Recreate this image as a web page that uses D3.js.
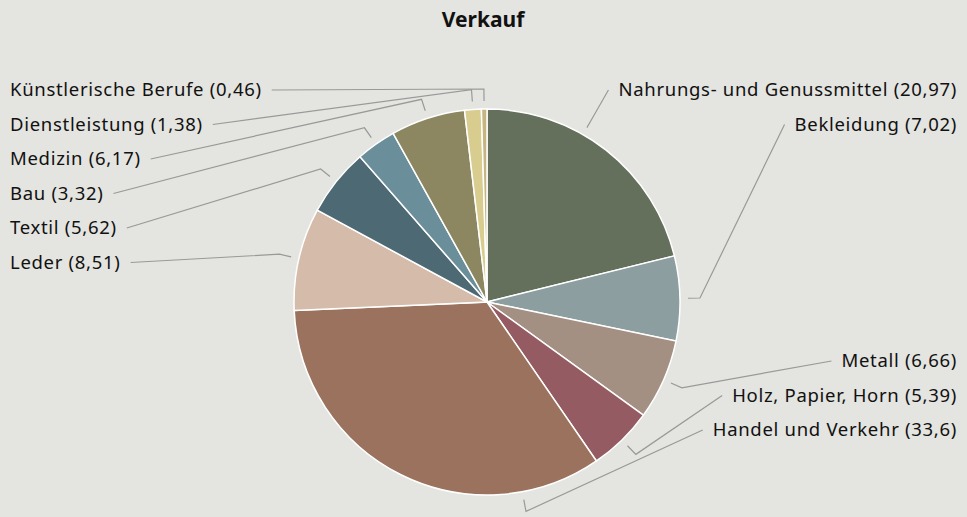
<!DOCTYPE html>
<html>
<head>
<meta charset="utf-8">
<script src="https://cdn.jsdelivr.net/npm/d3@7"></script>
<style>
  body { margin: 0; background: #e4e4e0; }
  svg { display: block; font-family: "Noto Sans", "Open Sans", sans-serif; }
</style>
</head>
<body>
<svg id="chart"></svg>
<script>
// data, clockwise from 12 o'clock
const categories = ["Nahrungs- und Genussmittel", "Bekleidung", "Metall", "Holz, Papier, Horn",
    "Handel und Verkehr", "Leder", "Textil", "Bau", "Medizin", "Dienstleistung", "Künstlerische Berufe"];
const values = [20.97, 7.02, 6.66, 5.39, 33.6, 8.51, 5.62, 3.32, 6.17, 1.38, 0.46];
const valueLabels = ["20,97", "7,02", "6,66", "5,39", "33,6", "8,51", "5,62", "3,32", "6,17", "1,38", "0,46"];
const colors = ["#64705b", "#8d9ea1", "#a39083", "#955b62", "#9a725d", "#d5bba9",
    "#4d6974", "#6a8f9b", "#8c8760", "#d8cd8e", "#c4b581"];
const title = "Verkauf";

const W = 967, H = 517;
const cx = 487, cy = 302, R = 193;
const FONT = 18.5, STEP = 34.5;

const svg = d3.select("#chart").attr("width", W).attr("height", H);
svg.append("rect").attr("width", W).attr("height", H).attr("fill", "#e4e4e0");

svg.append("text")
    .attr("x", 483).attr("y", 27)
    .attr("text-anchor", "middle")
    .attr("font-size", 21).attr("font-weight", "bold")
    .attr("fill", "#111")
    .text(title);

const data = categories.map((c, i) => ({name: c, value: values[i], label: valueLabels[i], color: colors[i]}));

const pie = d3.pie().value(d => d.value).sort(null);
const arcs = pie(data);
const arc = d3.arc().innerRadius(0).outerRadius(R);

const g = svg.append("g").attr("transform", `translate(${cx},${cy})`);
g.selectAll("path").data(arcs).join("path")
    .attr("d", arc)
    .attr("fill", d => d.data.color)
    .attr("stroke", "#fff")
    .attr("stroke-width", 1.5);

// label layout: slices starting in the right half get right labels,
// split in a top group (from the top down) and a bottom group (from the bottom up)
const mid = a => (a.startAngle + a.endAngle) / 2;
const left = arcs.filter(a => a.startAngle >= Math.PI).reverse();
const right = arcs.filter(a => a.startAngle < Math.PI);
const rightTop = right.filter(a => mid(a) < Math.PI / 2);
const rightBottom = right.filter(a => mid(a) >= Math.PI / 2);

left.forEach((a, i) => { a.side = "left"; a.ly = 90 + i * STEP; a.lx = 10; });
rightTop.forEach((a, i) => { a.side = "right"; a.ly = 90 + i * STEP; a.lx = 957; });
rightBottom.forEach((a, i) => { a.side = "right"; a.ly = 430 - (rightBottom.length - 1 - i) * STEP; a.lx = 957; });

const labels = svg.append("g");
const texts = labels.selectAll("text").data(arcs).join("text")
    .attr("x", d => d.lx).attr("y", d => d.ly)
    .attr("dy", "0.35em")
    .attr("text-anchor", d => d.side === "left" ? "start" : "end")
    .attr("font-size", FONT)
    .attr("letter-spacing", 0.7)
    .attr("fill", "#111")
    .text(d => `${d.data.name} (${d.data.label})`);

// leader lines: anchor angle kept inside slice, pulled toward the label
const pad = 24 * Math.PI / 180;
const polar = (ang, r) => [cx + r * Math.sin(ang), cy - r * Math.cos(ang)];
texts.each(function(d) {
    const bb = this.getBBox();
    const ex = d.side === "left" ? bb.x + bb.width + 10 : bb.x - 10;
    const ey = d.ly;
    let la = Math.atan2(ex - cx, -(ey - cy));
    if (la < 0) la += 2 * Math.PI;
    const p = Math.min(pad, (d.endAngle - d.startAngle) / 2);
    const ang = Math.max(d.startAngle + p, Math.min(d.endAngle - p, la));
    const a0 = polar(ang, R + 8);
    const a1 = polar(ang, R + 20);
    d.line = [[ex, ey], a1, a0];
});

svg.insert("g", "g").selectAll("path").data(arcs).join("path")
    .attr("d", d => d3.line()(d.line))
    .attr("fill", "none")
    .attr("stroke", "#999")
    .attr("stroke-width", 1.2);
</script>
</body>
</html>
